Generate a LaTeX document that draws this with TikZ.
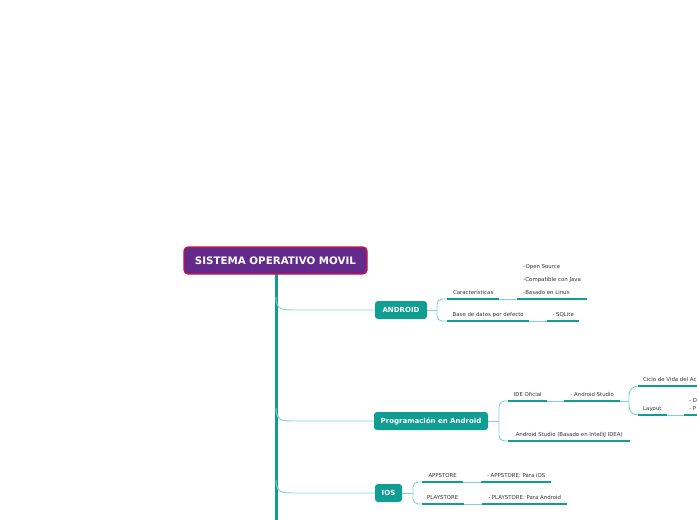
\documentclass[tikz,border=0pt]{standalone}
\usepackage{fontspec}
\setmainfont{DejaVu Sans}
\definecolor{tealD}{RGB}{16,158,146}
\definecolor{tealL}{RGB}{128,212,204}
\definecolor{purp}{RGB}{99,42,140}
\definecolor{redb}{RGB}{206,18,62}
\definecolor{txt}{RGB}{51,51,51}
\newcommand{\lines}[1]{\begin{tabular}[b]{@{}l@{}}#1\end{tabular}}
\begin{document}
\begin{tikzpicture}[x=1pt,y=-1pt,
 rootbox/.style={draw=redb, line width=1.2pt, fill=purp, rounded corners=4pt, text=white,
   font=\fontsize{10.3}{12}\selectfont\bfseries, minimum width=183pt, minimum height=27pt, inner sep=0pt},
 mainbox/.style={fill=tealD, rounded corners=3pt, text=white,
   font=\fontsize{7}{8}\selectfont\bfseries, minimum height=18pt, inner sep=0pt},
 subnode/.style={anchor=south west, inner xsep=5pt, inner ysep=0pt, text height=4pt, text depth=4.2pt,
   font=\fontsize{5.4}{6}\selectfont, text=txt},
 uline/.style={draw=tealD, line width=2.8pt},
 thinline/.style={draw=tealL, line width=0.9pt},
 trunkline/.style={draw=tealD, line width=3pt}]
\useasboundingbox (0,0) rectangle (697,520);
\clip (0,0) rectangle (697,520);

% trunk
\coordinate (tb) at (276,522);
\draw[trunkline] (276,262) -- (tb);

% root
\node[rootbox] (root) at (275.5,260.5) {\raisebox{-1.5pt}{SISTEMA OPERATIVO MOVIL}};

% main topics
\node[mainbox, minimum width=52pt] (and) at (401,310) {\raisebox{-0.6pt}{ANDROID}};
\node[mainbox, minimum width=114pt] (prog) at (431,421) {\raisebox{-0.6pt}{Programación en Android}};
\node[mainbox, minimum width=27pt] (ios) at (388.5,493) {\raisebox{-0.6pt}{IOS}};

% trunk branches
\coordinate (t1) at (276,297);
\coordinate (t2) at (276,408);
\coordinate (t3) at (276,480);
\draw[thinline] (t1) .. controls (276,310) and (282,310) .. (296,310) -- (and.west);
\draw[thinline] (t2) .. controls (276,421) and (282,421) .. (296,421) -- (prog.west);
\draw[thinline] (t3) .. controls (276,493) and (282,493) .. (296,493) -- (ios.west);

% ANDROID subtopics
\node[subnode, minimum width=52pt] (c1) at (447,299) {Características};
\node[subnode, minimum width=70pt, font=\fontsize{5.4}{13}\selectfont] (c1b) at (517,299)
  {\lines{-Open Source\\-Compatible con Java\\-Basado en Linux}};
\node[subnode, minimum width=82pt] (c2) at (447,321) {Base de datos por defecto};
\node[subnode, minimum width=32pt] (c2b) at (547,321) {- SQLite};

% Programacion subtopics
\node[subnode, minimum width=39pt] (p1) at (508,401) {IDE Oficial};
\node[subnode, minimum width=56pt] (p1b) at (564,401) {- Android Studio};
\node[subnode] (p1c) at (638,386) {Ciclo de Vida del Ac};
\node[subnode, minimum width=28pt] (p1d) at (638,415) {Layout};
\node[subnode, font=\fontsize{5.4}{8}\selectfont] (p1e) at (684,415) {\lines{- D\\- P}};
\node[subnode, minimum width=122pt] (p2) at (508,441) {Android Studio (Basado en IntelliJ IDEA)};

% IOS subtopics
\node[subnode, minimum width=41pt] (i1) at (422,482) {APPSTORE};
\node[subnode, minimum width=70pt] (i1b) at (481,482) {- APPSTORE: Para iOS};
\node[subnode, minimum width=41pt] (i2) at (422,504) {PLAYSTORE};
\node[subnode, minimum width=85pt] (i2b) at (482,504) {- PLAYSTORE: Para Android};

% underlines
\foreach \n in {c1,c1b,c2,c2b,p1,p1b,p1c,p1d,p1e,p2,i1,i1b,i2,i2b}
  \draw[uline] (\n.south west) -- (\n.south east);

% connectors between chained subtopics
\draw[thinline] (c1.south east) -- (c1b.south west);
\draw[thinline] (c2.south east) -- (c2b.south west);
\draw[thinline] (p1.south east) -- (p1b.south west);
\draw[thinline] (p1d.south east) -- (p1e.south west);
\draw[thinline] (i1.south east) -- (i1b.south west);
\draw[thinline] (i2.south east) -- (i2b.south west);

% brackets
\coordinate (a0) at (437,310);
\draw[thinline] (and.east) -- (a0);
\draw[thinline, rounded corners=5pt] (c1.south west) -| (a0) |- (c2.south west);

\coordinate (b0) at (499,421);
\draw[thinline] (prog.east) -- (b0);
\draw[thinline, rounded corners=6pt] (p1.south west) -| (b0) |- (p2.south west);

\coordinate (b1) at (629,401);
\draw[thinline] (p1b.south east) -- (b1);
\draw[thinline, rounded corners=9pt] (p1c.south west) -| (b1) |- (p1d.south west);

\coordinate (d0) at (413,493);
\draw[thinline] (ios.east) -- (d0);
\draw[thinline, rounded corners=5pt] (i1.south west) -| (d0) |- (i2.south west);
\end{tikzpicture}
\end{document}
